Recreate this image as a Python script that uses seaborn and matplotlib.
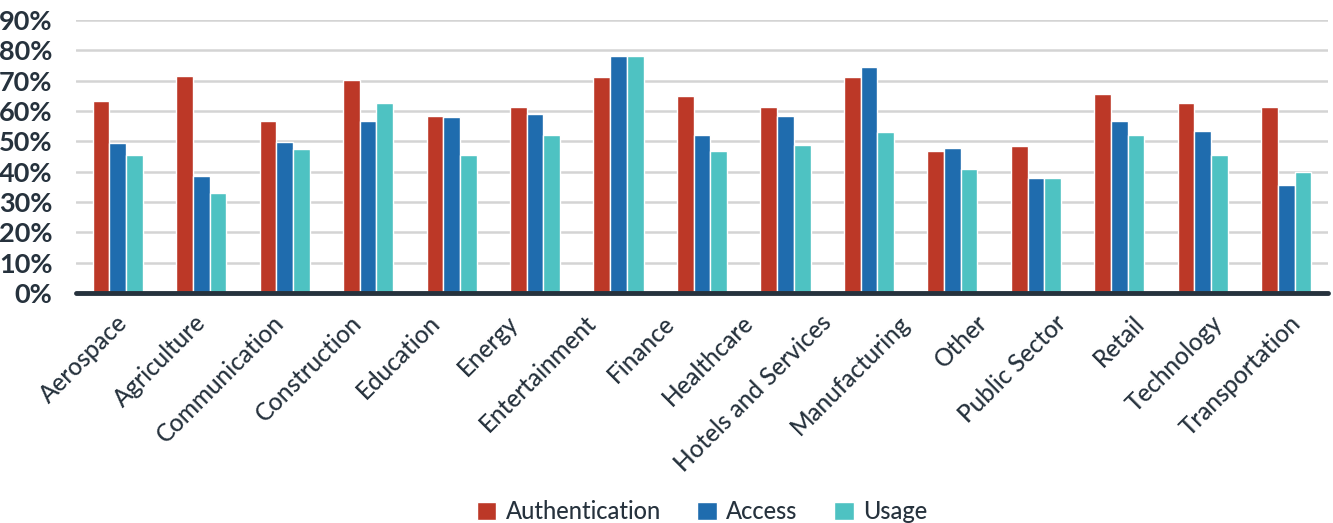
import pandas as pd
import seaborn as sns
import matplotlib.pyplot as plt
from matplotlib.ticker import PercentFormatter

# 16 labels on the axis, but only 15 bar groups in the source chart
industries = ["Aerospace", "Agriculture", "Communication", "Construction", "Education",
              "Energy", "Entertainment", "Finance", "Healthcare", "Hotels and Services",
              "Manufacturing", "Other", "Public Sector", "Retail", "Technology",
              "Transportation"]
series = ["Authentication", "Access", "Usage"]
colors = ["#BC3827", "#1F6CAE", "#4EC2C2"]

authentication = [63.2, 71.4, 56.6, 70.1, 58.2, 61.2, 71.1, 64.8, 61.2, 71.1, 46.7, 48.4, 65.5, 62.5, 61.2]
access = [49.3, 38.5, 49.7, 56.6, 57.9, 58.9, 78.0, 52.0, 58.2, 74.4, 47.7, 37.8, 56.6, 53.3, 35.5]
usage = [45.4, 32.9, 47.4, 62.5, 45.4, 52.0, 78.0, 46.7, 48.7, 53.0, 40.8, 37.8, 52.0, 45.4, 39.8]

groups = industries[:len(authentication)]
df = pd.DataFrame({
    "Industry": groups * 3,
    "Metric": [s for s in series for _ in groups],
    "Value": authentication + access + usage,
})

text_col = "#26323D"
sns.set_style("white")
plt.rcParams["font.family"] = ["Lato", "DejaVu Sans"]

fig = plt.figure(figsize=(13.33, 5.23), dpi=100)
ax = fig.add_axes([76 / 1333, 1 - 293 / 523, 1252 / 1333, 273 / 523])

sns.barplot(data=df, x="Industry", y="Value", hue="Metric", hue_order=series,
            palette=colors, width=0.6, saturation=1, ax=ax, legend=True)

ax.set_ylim(0, 90)
ax.set_yticks(range(0, 91, 10))
ax.yaxis.set_major_formatter(PercentFormatter(decimals=0))
ax.tick_params(axis="y", length=0, pad=17, labelsize=19.5, labelcolor=text_col)
for t in ax.get_yticklabels():
    t.set_fontweight("bold")
ax.set_xticks([])
ax.set_xlabel("")
ax.set_ylabel("")
ax.grid(axis="y", color="#D4D4D4", linewidth=1.8)
ax.set_axisbelow(True)
for sp in ax.spines.values():
    sp.set_visible(False)
ax.axhline(0, color=text_col, linewidth=3.5, solid_capstyle="round", clip_on=False, zorder=5)

# category labels spread over the full width
ax2 = ax.twiny()
ax2.set_xlim(-0.5, len(industries) - 0.5)
ax2.set_xticks(range(len(industries)))
ax2.set_xticklabels(industries, rotation=45, ha="right", rotation_mode="anchor",
                    fontsize=17.5, color=text_col, fontweight="medium")
ax2.xaxis.set_ticks_position("bottom")
ax2.tick_params(axis="x", length=0, pad=13)
for sp in ax2.spines.values():
    sp.set_visible(False)

handles, labels = ax.get_legend_handles_labels()
ax.get_legend().remove()
ax2.legend(handles, labels, loc="center", bbox_to_anchor=(0.5, -0.80), ncol=3,
           frameon=False, prop={"size": 17, "weight": "medium"},
           handlelength=0.82, handleheight=0.82,
           handletextpad=0.4, columnspacing=1.55, labelcolor=text_col)

plt.savefig("out.png", dpi=100)
